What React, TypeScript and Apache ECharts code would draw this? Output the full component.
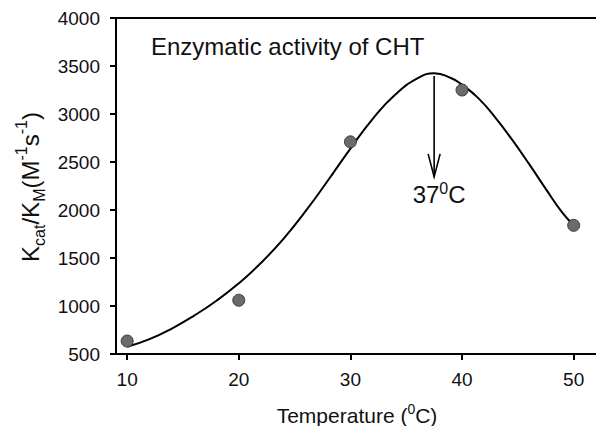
import React, { useEffect, useRef } from "react";
import * as echarts from "echarts";

// Measured data points
const tempPoints = [10, 20, 30, 40, 50];
const activityPoints = [635, 1060, 2710, 3250, 1840];

// Fitted curve
const fitTemps = [10, 12, 14, 16, 18, 20, 22, 24, 26, 28, 30, 32, 34, 36, 37.5, 39, 40, 41.5, 43, 44.5, 46, 47.5, 49, 50];
const fitValues = [575, 655, 765, 900, 1055, 1236, 1450, 1700, 1990, 2310, 2640, 2950, 3200, 3370, 3424, 3375, 3305, 3160, 2960, 2730, 2480, 2220, 1970, 1844];

// Peak annotation: temperature, arrow start value, arrow tip value
const peakArrow = [[37.5, 3395, 2345]];

const xTicks = [10, 20, 30, 40, 50];
const yTicks = [500, 1000, 1500, 2000, 2500, 3000, 3500, 4000];

const FONT = "'Liberation Sans', Arial, sans-serif";

export default function App() {
  const ref = useRef<HTMLDivElement>(null);

  useEffect(() => {
    if (!ref.current) return;
    const chart = echarts.init(ref.current, undefined, { renderer: "svg" });
    const axisLine = { show: true, lineStyle: { color: "#000", width: 2 } };
    const option: any = {
      animation: false,
      backgroundColor: "#fff",
      textStyle: { fontFamily: FONT },
      grid: { left: 116, right: 0, top: 18, bottom: 72, containLabel: false },
      xAxis: [
        {
          type: "value",
          min: 9,
          max: 52,
          position: "bottom",
          axisLine,
          axisTick: {
            show: true,
            length: 6,
            lineStyle: { color: "#000", width: 2 },
            customValues: xTicks,
          },
          axisLabel: {
            color: "#111",
            fontSize: 19,
            fontFamily: FONT,
            margin: 16,
            customValues: xTicks,
            formatter: (v: number) => String(v),
          },
          splitLine: { show: false },
        },
        {
          type: "value",
          min: 9,
          max: 52,
          position: "top",
          axisLine,
          axisTick: { show: false },
          axisLabel: { show: false },
          splitLine: { show: false },
        },
      ],
      yAxis: {
        type: "value",
        min: 500,
        max: 4000,
        interval: 500,
        axisLine,
        axisTick: { show: true, length: 6, lineStyle: { color: "#000", width: 2 } },
        axisLabel: {
          color: "#111",
          fontSize: 19,
          fontFamily: FONT,
          margin: 16,
          customValues: yTicks,
          formatter: (v: number) => String(v),
        },
        splitLine: { show: false },
      },
      graphic: [
        {
          type: "text",
          x: 151,
          y: 46,
          style: {
            text: "Enzymatic activity of CHT",
            fontSize: 24,
            fontFamily: FONT,
            fill: "#111",
            align: "left",
            verticalAlign: "middle",
          },
        },
        {
          type: "text",
          x: 30,
          y: 187,
          rotation: Math.PI / 2,
          style: {
            text: "{m|K}{sub|cat}{m|/K}{sub|M}{m|(M}{sup|-1}{m|s}{sup|-1}{m|)}",
            align: "center",
            verticalAlign: "middle",
            fill: "#111",
            rich: {
              m: { fontSize: 24, fontFamily: FONT, lineHeight: 34, verticalAlign: "middle", fill: "#111" },
              sub: { fontSize: 16, fontFamily: FONT, lineHeight: 34, verticalAlign: "bottom", fill: "#111" },
              sup: { fontSize: 16, fontFamily: FONT, lineHeight: 25, verticalAlign: "top", fill: "#111" },
            },
          },
        },
        {
          type: "text",
          x: 357,
          y: 415,
          style: {
            text: "{m|Temperature (}{sup|0}{m|C)}",
            align: "center",
            verticalAlign: "middle",
            fill: "#111",
            rich: {
              m: { fontSize: 21, fontFamily: FONT, lineHeight: 27, verticalAlign: "middle", fill: "#111" },
              sup: { fontSize: 14, fontFamily: FONT, lineHeight: 21, verticalAlign: "top", fill: "#111" },
            },
          },
        },
      ],
      series: [
        {
          type: "line",
          data: fitTemps.map((t, i) => [t, fitValues[i]]),
          smooth: true,
          showSymbol: false,
          symbol: "none",
          lineStyle: { color: "#000", width: 2 },
          z: 2,
        },
        {
          type: "scatter",
          data: tempPoints.map((t, i) => [t, activityPoints[i]]),
          symbol: "circle",
          symbolSize: 12,
          itemStyle: { color: "#6b6b6b", borderColor: "#3c3c3c", borderWidth: 1, opacity: 1 },
          z: 3,
        },
        {
          type: "custom",
          data: peakArrow,
          z: 4,
          renderItem: (params: any, api: any) => {
            const top = api.coord([api.value(0), api.value(1)]);
            const tip = api.coord([api.value(0), api.value(2)]);
            return {
              type: "group",
              children: [
                {
                  type: "line",
                  shape: { x1: top[0], y1: top[1], x2: tip[0], y2: tip[1] },
                  style: { stroke: "#000", lineWidth: 1.6 },
                },
                {
                  type: "polyline",
                  shape: {
                    points: [
                      [tip[0] - 6, tip[1] - 23],
                      [tip[0], tip[1]],
                      [tip[0] + 6, tip[1] - 23],
                    ],
                  },
                  style: { stroke: "#000", fill: "none", lineWidth: 1.6 },
                },
                {
                  type: "text",
                  x: tip[0] + 5,
                  y: tip[1] + 18,
                  style: {
                    text: "{m|37}{sup|0}{m|C}",
                    align: "center",
                    verticalAlign: "middle",
                    fill: "#111",
                    rich: {
                      m: { fontSize: 24, fontFamily: FONT, lineHeight: 29, verticalAlign: "middle", fill: "#111" },
                      sup: { fontSize: 16, fontFamily: FONT, lineHeight: 23, verticalAlign: "top", fill: "#111" },
                    },
                  },
                },
              ],
            };
          },
        },
      ],
    };
    chart.setOption(option);
    return () => chart.dispose();
  }, []);

  return (
    <div
      ref={ref}
      style={{ position: "absolute", left: 0, top: 0, width: 596, height: 426, background: "#fff" }}
    />
  );
}
